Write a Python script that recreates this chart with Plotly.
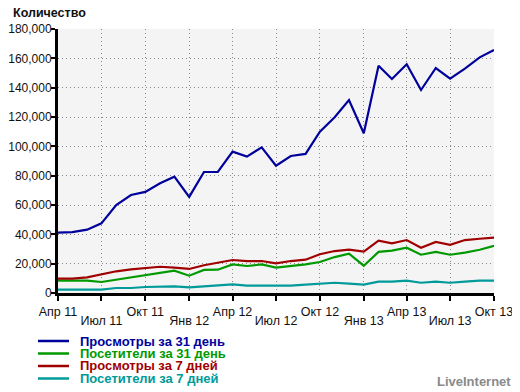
import plotly.graph_objects as go

months = ["2011-04", "2011-05", "2011-06", "2011-07", "2011-08", "2011-09", "2011-10",
          "2011-11", "2011-12", "2012-01", "2012-02", "2012-03", "2012-04", "2012-05",
          "2012-06", "2012-07", "2012-08", "2012-09", "2012-10", "2012-11", "2012-12",
          "2013-01", "2013-02", "2013-03", "2013-04", "2013-05", "2013-06", "2013-07",
          "2013-08", "2013-09", "2013-10"]

views_31 = [41100, 41500, 43200, 47500, 60000, 66800, 68900, 74800, 79300, 65500, 82500,
            82500, 96400, 93000, 99300, 86800, 93400, 94800, 110000, 119800, 131600,
            108900, 155000, 145900, 156000, 138400, 153400, 146100, 153000, 160700, 165700]
visitors_31 = [8400, 8400, 8400, 7500, 9100, 10700, 11800, 13900, 15200, 11800, 15700,
               15900, 19500, 18400, 19500, 17300, 18200, 19500, 21100, 24500, 26800,
               18600, 28000, 28900, 30900, 26100, 28000, 26100, 27500, 29500, 32200]
views_7 = [9800, 9800, 10700, 12700, 14800, 16100, 16800, 17900, 17300, 16400, 18900,
           20700, 22500, 21800, 21800, 20200, 21800, 22700, 26400, 28600, 29500,
           28200, 35700, 33900, 36100, 30900, 34800, 32900, 36100, 37000, 37700]
visitors_7 = [2300, 2300, 2300, 2300, 3400, 3400, 4100, 4500, 4500, 3900, 4500,
              5000, 5900, 5000, 5000, 5000, 5000, 5700, 6400, 7000, 6400,
              5700, 7700, 7700, 8400, 7000, 7700, 7000, 7700, 8400, 8400]

series_names = ["Просмотры за 31 день", "Посетители за 31 день",
                "Просмотры за 7 дней", "Посетители за 7 дней"]
series_colors = ["#00009c", "#009a00", "#a00000", "#009a9a"]
series_values = [views_31, visitors_31, views_7, visitors_7]

tick_months = ["2011-04", "2011-07", "2011-10", "2012-01", "2012-04", "2012-07",
               "2012-10", "2013-01", "2013-04", "2013-07", "2013-10"]
tick_labels = ["Апр 11", "Июл 11", "Окт 11", "Янв 12", "Апр 12", "Июл 12",
               "Окт 12", "Янв 13", "Апр 13", "Июл 13", "Окт 13"]
y_ticks = [0, 20000, 40000, 60000, 80000, 100000, 120000, 140000, 160000, 180000]

FONT = "Liberation Sans, Arial, sans-serif"
X_RANGE = [months[0] + "-01", months[-1] + "-01"]
tick_dates = [m + "-01" for m in tick_months]

fig = go.Figure()
for name, color, vals in zip(series_names, series_colors, series_values):
    fig.add_trace(go.Scatter(x=[m + "-01" for m in months], y=vals, mode="lines",
                             name=name, line=dict(color=color, width=2.2),
                             showlegend=False))

# upper row of tick labels on primary axis, lower row on overlaid axis
upper_text = [t if i % 2 == 0 else "" for i, t in enumerate(tick_labels)]
lower_vals = [d for i, d in enumerate(tick_dates) if i % 2 == 1]
lower_text = [t for i, t in enumerate(tick_labels) if i % 2 == 1]

# page body adds an 8px offset, so the figure is 8px smaller
fig.update_layout(
    width=512, height=384,
    margin=dict(l=50, r=26, t=21, b=99),
    paper_bgcolor="white",
    plot_bgcolor="#f4f4f4",
    font=dict(family=FONT, size=12, color="#111111"),
    xaxis=dict(
        type="date",
        range=X_RANGE,
        tickvals=tick_dates,
        ticktext=upper_text,
        tickangle=0,
        automargin=False,
        tickfont=dict(size=12.5, color="#111111"),
        showgrid=True, gridcolor="#888888", griddash="1px,3px", gridwidth=1,
        showline=True, linecolor="black", linewidth=3,
        ticks="outside", ticklen=5, tickwidth=1.5, tickcolor="black",
        zeroline=False,
    ),
    xaxis2=dict(
        type="date",
        range=X_RANGE,
        overlaying="x",
        side="bottom",
        anchor="y",
        tickvals=lower_vals,
        ticktext=lower_text,
        tickangle=0,
        automargin=False,
        tickfont=dict(size=12.5, color="#111111"),
        showgrid=False, showline=False, zeroline=False,
        ticks="", ticklabelstandoff=18,
    ),
    yaxis=dict(
        range=[0, 180000],
        tickvals=y_ticks,
        ticktext=[f"{v:,}" for v in y_ticks],
        automargin=False,
        tickfont=dict(size=12, color="#111111"),
        showgrid=True, gridcolor="#888888", griddash="1px,3px", gridwidth=1,
        showline=True, linecolor="black", linewidth=3,
        ticks="outside", ticklen=4, tickwidth=1.5, tickcolor="black",
        ticklabelstandoff=-3,
        zeroline=False,
    ),
)
# invisible trace so that xaxis2 is drawn
fig.add_trace(go.Scatter(x=[X_RANGE[0]], y=[None], xaxis="x2", yaxis="y",
                         mode="lines", showlegend=False, hoverinfo="skip"))

fig.add_annotation(text="<b>Количество</b>", xref="paper", yref="paper",
                   x=-47 / 436, y=1 + 16 / 264, xanchor="left", yanchor="middle",
                   showarrow=False, font=dict(family=FONT, size=12.5, color="#111111"))

# legend built from series lists
leg_y0 = 341
leg_dy = 12.5
for i, (name, color) in enumerate(zip(series_names, series_colors)):
    ypx = leg_y0 + i * leg_dy
    yp = (293 - ypx) / 264
    fig.add_shape(type="line", xref="paper", yref="paper",
                  x0=(38 - 58) / 436, x1=(69 - 58) / 436, y0=yp, y1=yp,
                  line=dict(color=color, width=2.5))
    fig.add_annotation(text="<b>" + name + "</b>", xref="paper", yref="paper",
                       x=(78 - 58) / 436, y=yp, xanchor="left", yanchor="middle",
                       showarrow=False,
                       font=dict(family=FONT, size=13, color=color))

fig.add_annotation(text="<b>LiveInternet</b>", xref="paper", yref="paper",
                   x=(513 - 58) / 436, y=(293 - 381) / 264, xanchor="right",
                   yanchor="middle", showarrow=False,
                   font=dict(family=FONT, size=13, color="#8a8a8a"))

fig.write_html("out.html")
